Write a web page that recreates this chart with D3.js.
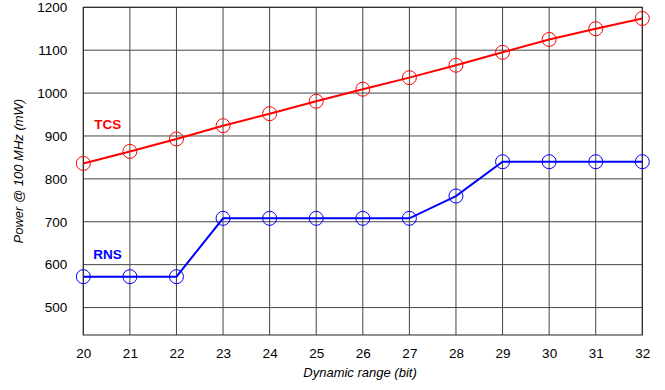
<!DOCTYPE html>
<html><head><meta charset="utf-8">
<script src="https://cdn.jsdelivr.net/npm/d3@7"></script>
<style>body{margin:0;background:#fff}svg{display:block}</style>
</head><body>
<script>
const bits = [20,21,22,23,24,25,26,27,28,29,30,31,32];
const tcs = [836,864,893,924,952,981,1009,1036,1065,1095,1125,1150,1174];
const rns = [572,572,572,708,708,708,708,708,760,840,840,840,840];
const yTicks = [500,600,700,800,900,1000,1100,1200];

const W=665,H=390;
const m={l:83.3,r:665-642.3,t:7.3,b:390-335};
const svg=d3.select("body").append("svg").attr("width",W).attr("height",H);
const x=d3.scaleLinear().domain([20,32]).range([m.l,W-m.r]);
const y=d3.scaleLinear().domain([436,1200]).range([H-m.b,m.t]);
const font="Liberation Sans, Arial, sans-serif";

const g=svg.append("g");
g.selectAll(".vg").data(bits).join("line").attr("x1",d=>x(d)).attr("x2",d=>x(d))
 .attr("y1",y.range()[1]).attr("y2",y.range()[0]).attr("stroke","#444").attr("stroke-width",1);
g.selectAll(".hg").data(yTicks).join("line").attr("y1",d=>y(d)).attr("y2",d=>y(d))
 .attr("x1",x.range()[0]).attr("x2",x.range()[1]).attr("stroke","#444").attr("stroke-width",1);
g.append("rect").attr("x",x.range()[0]).attr("y",y.range()[1]).attr("width",x.range()[1]-x.range()[0])
 .attr("height",y.range()[0]-y.range()[1]).attr("fill","none").attr("stroke","#222").attr("stroke-width",1);

const xa=svg.append("g").attr("transform",`translate(0,${y.range()[0]})`)
 .call(d3.axisBottom(x).tickValues(bits).tickSize(0).tickPadding(13).tickFormat(d3.format("d")));
xa.select(".domain").remove();
xa.selectAll("text").attr("font-family",font).attr("font-size",13.5).attr("fill","#000");
const ya=svg.append("g").attr("transform",`translate(${x.range()[0]},0)`)
 .call(d3.axisLeft(y).tickValues(yTicks).tickSize(0).tickPadding(16).tickFormat(d3.format("d")));
ya.select(".domain").remove();
ya.selectAll("text").attr("font-family",font).attr("font-size",13.5).attr("fill","#000");

svg.append("text").attr("x",360).attr("y",377).attr("text-anchor","middle")
 .attr("font-family",font).attr("font-size",13).attr("font-style","italic").text("Dynamic range (bit)");
svg.append("text").attr("transform",`translate(23,${(y(1200)+y(436))/2}) rotate(-90)`).attr("text-anchor","middle")
 .attr("font-family",font).attr("font-size",13).attr("font-style","italic").text("Power @ 100 MHz (mW)");

const series=[{name:"TCS",vals:tcs,color:"#ff0000",lx:107.7,ly:128.5},{name:"RNS",vals:rns,color:"#0000ff",lx:107.5,ly:258.5}];
const line=d3.line().x((d,i)=>x(bits[i])).y(d=>y(d));
series.forEach(s=>{
  svg.append("path").attr("d",line(s.vals)).attr("fill","none").attr("stroke",s.color).attr("stroke-width",2);
  svg.selectAll(null).data(s.vals).join("circle").attr("cx",(d,i)=>x(bits[i])).attr("cy",d=>y(d)).attr("r",7)
   .attr("fill","none").attr("stroke",s.color).attr("stroke-width",1);
  svg.append("text").attr("x",s.lx).attr("y",s.ly).attr("text-anchor","middle").attr("font-family",font)
   .attr("font-size",13.5).attr("font-weight","bold").attr("fill",s.color).text(s.name);
});
</script>
</body></html>
